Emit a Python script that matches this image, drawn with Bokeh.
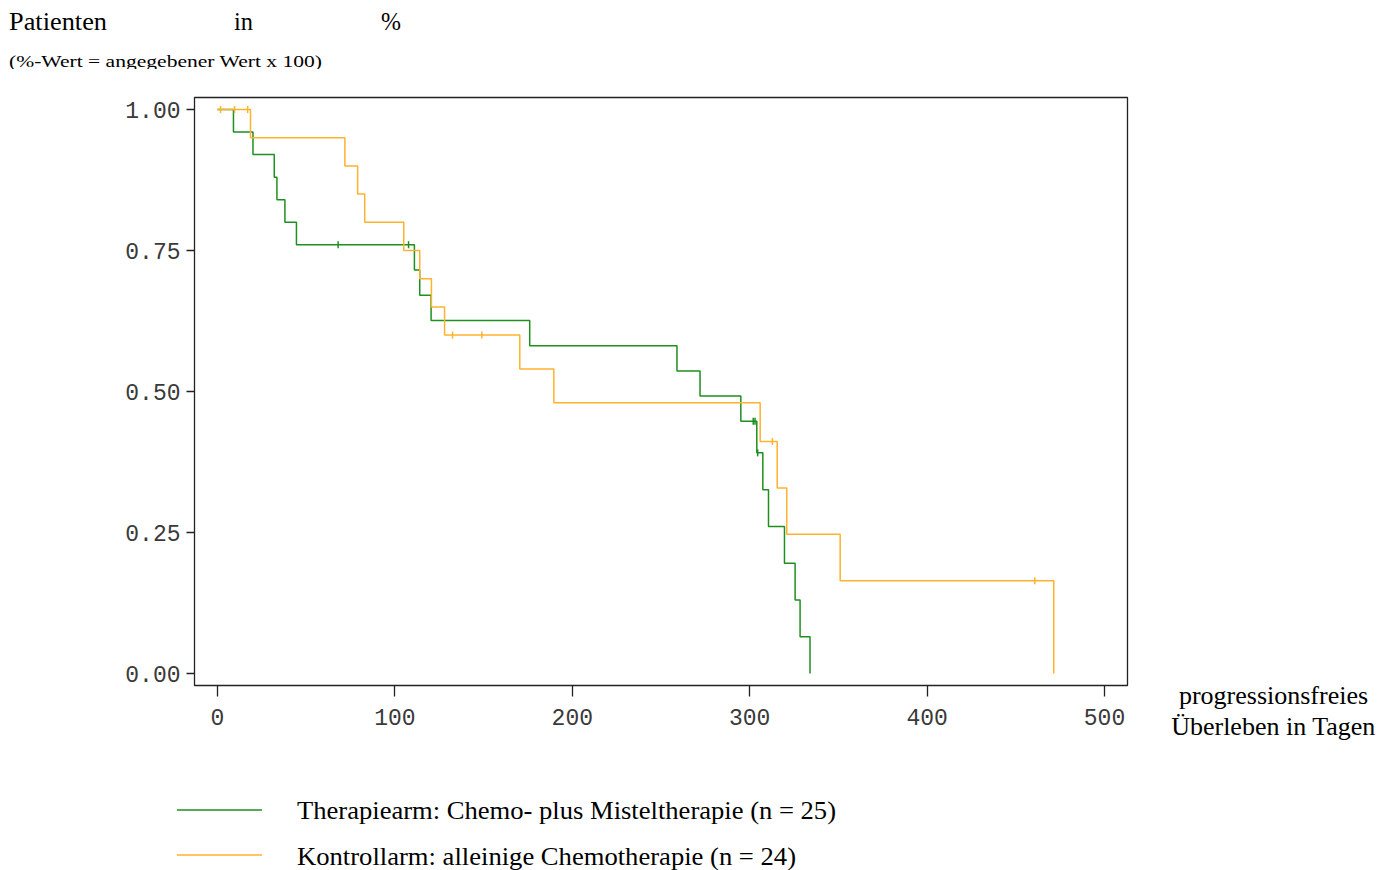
import math
from bokeh.plotting import figure
from bokeh.models import Label, Range1d, Div
from bokeh.layouts import column
from bokeh.embed import file_html
from bokeh.resources import INLINE

# ---- data ----
therapie_days = [0, 9, 20, 32, 33.5, 38, 44.5, 111, 114, 120.4, 176, 259, 272, 295,
                 304, 307.4, 310.6, 319.6, 325.6, 328.4, 334]
therapie_surv = [1.0, 0.96, 0.92, 0.88, 0.84, 0.80, 0.76, 0.7153, 0.6706, 0.6259, 0.5812,
                 0.5365, 0.4918, 0.4471, 0.3912, 0.3260, 0.2608, 0.1956, 0.1304, 0.0652, 0.0]
therapie_cens_days = [68, 107.7, 302, 303, 304.5]
therapie_cens_surv = [0.76, 0.76, 0.4471, 0.4471, 0.3912]

kontroll_days = [0, 18.6, 71.8, 79, 83, 105, 114, 120.6, 128, 170.4, 189.6, 305.9,
                 315.5, 320.9, 351, 471.4]
kontroll_surv = [1.0, 0.95, 0.90, 0.85, 0.80, 0.75, 0.70, 0.65, 0.60, 0.54, 0.48, 0.4114,
                 0.3291, 0.2468, 0.1646, 0.0]
kontroll_cens_days = [1.7, 9.6, 17, 132.5, 149, 312.8, 460.7]
kontroll_cens_surv = [1.0, 1.0, 1.0, 0.60, 0.60, 0.4114, 0.1646]

x_ticks = [0, 100, 200, 300, 400, 500]
y_ticks = [0.0, 0.25, 0.5, 0.75, 1.0]
y_tick_labels = ["0.00", "0.25", "0.50", "0.75", "1.00"]

series_names = ["Therapiearm: Chemo- plus Misteltherapie (n = 25)",
                "Kontrollarm: alleinige Chemotherapie (n = 24)"]
title_words = ["Patienten", "in", "%"]
subtitle = "(%-Wert = angegebener Wert x 100)"
x_title = ["progressionsfreies", "Überleben in Tagen"]

GREEN = "#1f8f1f"
ORANGE = "#ffb22e"
SERIF = "Liberation Serif"

# ---- layout (page pixels) ----
PAGE_W = 1389
TOP_H = 87                       # header strip (page y 0 .. 87)
FRAME_L, FRAME_R, FRAME_T, FRAME_B = 194, 1127, 97, 685
MAIN_H = 686                     # main figure (page y 87 .. 773)
BOT_H = 97                       # legend strip (page y 773 .. 870)
X0, PXD = 217.0, 1.774           # pixel of day 0, pixels per day
Y0, PXS = 673.0, 564.0           # pixel of survival 0, pixels per unit
def dx(px):
    return (px - X0) / PXD
def dy(py):
    return (Y0 - py) / PXS

def svg_text(x, y, s, size, length=None):
    extra = f' textLength="{length}" lengthAdjust="spacingAndGlyphs"' if length else ""
    return (f'<text x="{x}" y="{y}" style="font-family:\'{SERIF}\',serif;'
            f'font-size:{size}px;font-weight:normal;font-style:normal;fill:#000"'
            f'{extra}>{s}</text>')

# ---- header: title and subtitle ----
head = [f'<svg xmlns="http://www.w3.org/2000/svg" width="{PAGE_W}" height="{TOP_H}" '
        f'style="display:block">']
for word, px, ln in zip(title_words, [9, 234, 381], [98, 19, 20]):
    head.append(svg_text(px, 30, word, 26, ln))
head.append(f'<svg x="0" y="0" width="{PAGE_W}" height="69" overflow="hidden">')
head.append(svg_text(9, 67, subtitle, 17, 313))
head.append('</svg></svg>')
top = Div(text="".join(head), width=PAGE_W, height=TOP_H,
          styles={"margin": "0", "padding": "0"})

# ---- main plot ----
p = figure(frame_width=FRAME_R - FRAME_L, frame_height=FRAME_B - FRAME_T,
           min_border_left=FRAME_L, min_border_right=PAGE_W - FRAME_R,
           min_border_top=FRAME_T - TOP_H, min_border_bottom=TOP_H + MAIN_H - FRAME_B,
           x_range=Range1d(dx(FRAME_L), dx(FRAME_R)), y_range=Range1d(dy(FRAME_B), dy(FRAME_T)),
           output_backend="svg", toolbar_location=None)
p.title.visible = False
p.grid.visible = False
p.outline_line_color = "#222222"
p.outline_line_width = 1.3
p.background_fill_color = "white"
p.border_fill_color = "white"

for ax in (p.xaxis[0], p.yaxis[0]):
    ax.axis_line_color = None
    ax.major_tick_in = 0
    ax.minor_tick_line_color = None
    ax.major_tick_line_color = "#222222"
    ax.major_tick_line_width = 1.3
    ax.major_label_text_font = "Liberation Mono"
    ax.major_label_text_font_size = "23px"
    ax.major_label_text_color = "#3a3a3a"

p.xaxis.ticker = x_ticks
p.xaxis.major_tick_out = 11
p.xaxis.major_label_standoff = 12

p.yaxis.ticker = y_ticks
p.yaxis.major_label_overrides = {t: l for t, l in zip(y_ticks, y_tick_labels)}
p.yaxis.major_tick_out = 8
p.yaxis.major_label_standoff = 6

p.step(therapie_days, therapie_surv, mode="after", line_color=GREEN, line_width=1.5)
p.step(kontroll_days, kontroll_surv, mode="after", line_color=ORANGE, line_width=1.5)
p.scatter(therapie_cens_days, therapie_cens_surv, marker="dash", angle=math.pi / 2,
          size=7, line_color=GREEN, line_width=1.5)
p.scatter(kontroll_cens_days, kontroll_cens_surv, marker="dash", angle=math.pi / 2,
          size=7, line_color=ORANGE, line_width=1.5)

# axis title to the right of the frame
p.add_layout(Label(x=1273 - FRAME_R, y=FRAME_B - 710.5, x_units="screen", y_units="screen",
                   text="\n".join(x_title), text_font=SERIF,
                   text_font_size="26px", text_align="center", text_baseline="middle",
                   text_line_height=1.04, text_color="black"), "right")

# ---- legend strip ----
off = TOP_H + MAIN_H
leg = [f'<svg xmlns="http://www.w3.org/2000/svg" width="{PAGE_W}" height="{BOT_H}" '
       f'style="display:block">']
for name, color, ly, by, ln in zip(series_names, [GREEN, ORANGE], [810, 855], [819, 865],
                                   [539, 499]):
    leg.append(f'<line x1="177" y1="{ly - off}" x2="262" y2="{ly - off}" '
               f'style="stroke:{color};stroke-width:1.5"/>')
    leg.append(svg_text(297, by - off, name, 26, ln))
leg.append('</svg>')
bot = Div(text="".join(leg), width=PAGE_W, height=BOT_H,
          styles={"margin": "0", "padding": "0"})

layout = column(top, p, bot, spacing=0)
open("out.html", "w").write(file_html(layout, INLINE))
